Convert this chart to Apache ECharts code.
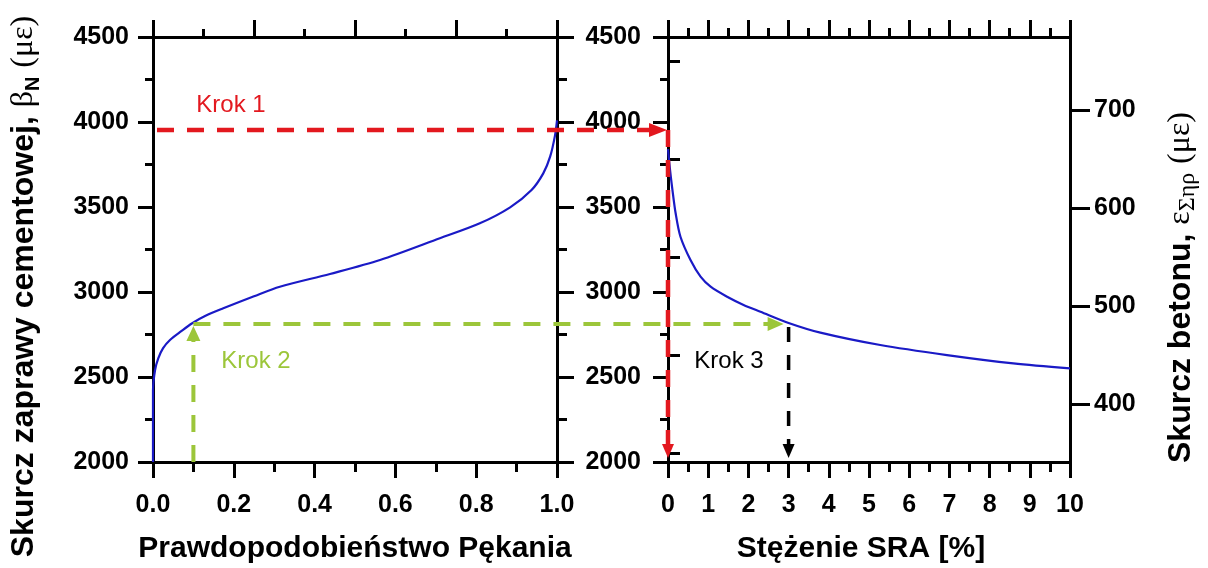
<!DOCTYPE html>
<html><head><meta charset="utf-8">
<script src="https://cdn.jsdelivr.net/npm/echarts@6/dist/echarts.min.js"></script>
<style>html,body{margin:0;padding:0;background:#fff}#c{width:1208px;height:568px}</style>
</head><body><div id="c"></div>
<script>
// ---- data ----
const probability = [0, 0, 0.005, 0.013, 0.025, 0.042, 0.07, 0.096, 0.13, 0.174, 0.25, 0.314, 0.438, 0.562, 0.71, 0.809, 0.884, 0.937, 0.966, 0.983, 0.995, 1.0];
const mortarShrinkageP = [2000, 2420, 2540, 2610, 2670, 2718, 2770, 2815, 2860, 2904, 2975, 3031, 3106, 3188, 3316, 3404, 3498, 3600, 3698, 3796, 3920, 4010];
const sraConcentration = [0, 0.05, 0.1, 0.19, 0.31, 0.56, 0.81, 1.06, 1.47, 1.88, 2.3, 3.0, 3.79, 5.28, 6.94, 8.59, 10];
const mortarShrinkageSRA = [3840, 3720, 3620, 3463, 3325, 3188, 3090, 3031, 2972, 2924, 2884, 2818, 2761, 2688, 2629, 2580, 2551];
const concreteTicksMajor = [400, 500, 600, 700];
const concreteTicksMinor = [350, 450, 550, 650, 750];
const concreteRange = [340.8, 774.5];
const krok1Shrinkage = 3953;
const krok2Probability = 0.1;
const krok2Shrinkage = 2812;
const krok3SRA = 3;
const stepLabels = ['Krok 1', 'Krok 2', 'Krok 3'];

const FONT = '"Liberation Sans", Arial, sans-serif';
const SERIF = '"Liberation Serif", "DejaVu Serif", serif';
const BLACK = '#000';
const RED = '#e3181f';
const GREEN = '#9cc63a';
const BLUE = '#1a1ac6';

const chart = echarts.init(document.getElementById('c'), null, {renderer: 'canvas'});

function line(w) { return {show: true, onZero: false, lineStyle: {color: BLACK, width: w}}; }
function tick(len) { return {show: true, inside: false, length: len, lineStyle: {color: BLACK, width: 3}}; }
function minor(len) { return {show: true, splitNumber: 2, length: len, lineStyle: {color: BLACK, width: 3}}; }
const labelStyle = {fontFamily: FONT, fontWeight: 'bold', fontSize: 25, color: BLACK};
const nameStyleX = {fontFamily: FONT, fontWeight: 'bold', fontSize: 30, color: BLACK};
const plain = v => String(v);

const richY = {
  t: {fontFamily: FONT, fontWeight: 'bold', fontSize: 32, color: BLACK, lineHeight: 38},
  g: {fontFamily: SERIF, fontWeight: 'normal', fontSize: 32, color: BLACK, lineHeight: 38},
  s: {fontFamily: FONT, fontWeight: 'bold', fontSize: 20, color: BLACK, verticalAlign: 'bottom', lineHeight: 38},
  gs: {fontFamily: SERIF, fontWeight: 'normal', fontSize: 24, color: BLACK, verticalAlign: 'bottom', lineHeight: 38}
};

const option = {
  animation: false,
  backgroundColor: '#fff',
  grid: [
    {left: 153, top: 37, width: 404, height: 425, containLabel: false, outerBoundsMode: 'none'},
    {left: 668, top: 37, width: 402, height: 425, containLabel: false, outerBoundsMode: 'none'}
  ],
  xAxis: [
    {gridIndex: 0, type: 'value', position: 'bottom', min: 0, max: 1, interval: 0.2,
     axisLine: line(3), axisTick: tick(16), minorTick: minor(10), splitLine: {show: false}, minorSplitLine: {show: false},
     axisLabel: Object.assign({margin: 31, formatter: v => v.toFixed(1)}, labelStyle),
     name: 'Prawdopodobieństwo Pękania', nameLocation: 'middle', nameGap: 72, nameTextStyle: nameStyleX},
    {gridIndex: 0, type: 'value', position: 'top', min: 0, max: 1, interval: 0.25,
     axisLine: line(3), axisTick: tick(17), minorTick: minor(8), splitLine: {show: false}, axisLabel: {show: false}},
    {gridIndex: 1, type: 'value', position: 'bottom', min: 0, max: 10, interval: 1,
     axisLine: line(3), axisTick: tick(16), minorTick: minor(10), splitLine: {show: false},
     axisLabel: Object.assign({margin: 31, formatter: plain}, labelStyle),
     name: 'Stężenie SRA [%]', nameLocation: 'middle', nameGap: 72,
     nameTextStyle: Object.assign({padding: [0, 16, 0, 0]}, nameStyleX)},
    {gridIndex: 1, type: 'value', position: 'top', min: 0, max: 10, interval: 1,
     axisLine: line(3), axisTick: tick(17), minorTick: minor(9), splitLine: {show: false}, axisLabel: {show: false}}
  ],
  yAxis: [
    {gridIndex: 0, type: 'value', position: 'left', min: 2000, max: 4500, interval: 500,
     axisLine: line(3), axisTick: tick(15), minorTick: minor(8), splitLine: {show: false},
     axisLabel: Object.assign({margin: 24, formatter: plain}, labelStyle),
     name: '{t|Skurcz zaprawy cementowej, }{g|β}{s|N}{t| }{g|(με)}', nameLocation: 'middle', nameRotate: 90, nameGap: 110,
     nameTextStyle: {rich: richY, padding: [0, 74, 0, 0]}},
    {gridIndex: 0, type: 'value', position: 'right', min: 2000, max: 4500, interval: 500,
     axisLine: line(3), axisTick: tick(17), minorTick: minor(10), splitLine: {show: false}, axisLabel: {show: false}},
    {gridIndex: 1, type: 'value', position: 'left', min: 2000, max: 4500, interval: 500,
     axisLine: line(3), axisTick: tick(15), minorTick: minor(8), splitLine: {show: false},
     axisLabel: Object.assign({margin: 27, formatter: plain}, labelStyle)},
    {gridIndex: 1, type: 'value', position: 'right', min: concreteRange[0], max: concreteRange[1],
     axisLine: line(3), axisTick: Object.assign(tick(20), {customValues: concreteTicksMajor}), splitLine: {show: false},
     axisLabel: Object.assign({margin: 24, customValues: concreteTicksMajor, formatter: plain}, labelStyle),
     name: '{t|Skurcz betonu, }{g|ε}{gs|Σηρ}{t| }{g|(με)}', nameLocation: 'middle', nameRotate: 90, nameGap: 92,
     nameTextStyle: {rich: richY, padding: [0, 76, 0, 0]}},
    {gridIndex: 1, type: 'value', position: 'right', min: concreteRange[0], max: concreteRange[1],
     axisLine: {show: false}, axisTick: Object.assign(tick(12), {customValues: concreteTicksMinor}),
     splitLine: {show: false}, axisLabel: {show: false}}
  ],
  series: [
    {type: 'line', xAxisIndex: 0, yAxisIndex: 0, showSymbol: false, smooth: 0.3, z: 5,
     lineStyle: {color: BLUE, width: 2.2}, data: probability.map((p, i) => [p, mortarShrinkageP[i]])},
    {type: 'line', xAxisIndex: 2, yAxisIndex: 2, showSymbol: false, smooth: 0.3, z: 5,
     lineStyle: {color: BLUE, width: 2.2}, data: sraConcentration.map((s, i) => [s, mortarShrinkageSRA[i]])}
  ]
};
chart.setOption(option);

// ---- step arrows, positioned through the axes' scales ----
function px0(v) { return chart.convertToPixel({xAxisIndex: 0, yAxisIndex: 0}, v); }
function px1(v) { return chart.convertToPixel({xAxisIndex: 2, yAxisIndex: 2}, v); }

function dashed(a, b, color, w, dash) {
  return {type: 'line', silent: true, z: 20,
    shape: {x1: a[0], y1: a[1], x2: b[0], y2: b[1]},
    style: {stroke: color, lineWidth: w, lineDash: dash}};
}
function head(tip, dx, dy, len, half, color) {
  const bx = tip[0] - dx * len, by = tip[1] - dy * len;
  const nx = -dy, ny = dx;
  return {type: 'polygon', silent: true, z: 21,
    shape: {points: [tip, [bx + nx * half, by + ny * half], [bx - nx * half, by - ny * half]]},
    style: {fill: color}};
}
function arrow(from, tip, color, w, dash, len, half) {
  const dx = tip[0] - from[0], dy = tip[1] - from[1];
  const L = Math.hypot(dx, dy), ux = dx / L, uy = dy / L;
  const end = [tip[0] - ux * (len - 1), tip[1] - uy * (len - 1)];
  return [dashed(from, end, color, w, dash), head(tip, ux, uy, len, half, color)];
}

const g = [];
// Krok 1
const r0 = px0([0, krok1Shrinkage]);
const rC = px1([0, krok1Shrinkage]);
const rB = px1([0, 2000]);
g.push(...arrow([r0[0] + 4, r0[1]], [rC[0] - 1, rC[1]], RED, 4.5, [17, 13], 18, 7));
g.push(...arrow([rC[0], rC[1]], [rB[0], rB[1] - 4], RED, 4.5, [17, 13], 14, 6));
// Krok 2
const gB = px0([krok2Probability, 2000]);
const gT = px0([krok2Probability, krok2Shrinkage]);
const gR = px1([krok3SRA, krok2Shrinkage]);
g.push(...arrow([gB[0], gB[1]], [gT[0], gT[1] + 2], GREEN, 4, [17, 13], 15, 7));
g.push(...arrow([gT[0], gT[1]], [gR[0] - 5, gR[1]], GREEN, 4, [17, 13], 16, 7));
// Krok 3
const bB = px1([krok3SRA, 2000]);
g.push(...arrow([gR[0], gR[1] + 3], [bB[0], bB[1] - 4], BLACK, 3.5, [15, 13], 14, 6));

// step labels
const lbl = (text, x, y, color) => ({type: 'text', silent: true, z: 22, x: x, y: y,
  style: {text: text, fill: color, fontFamily: FONT, fontSize: 24, fontWeight: 'normal', align: 'center', verticalAlign: 'middle'}});
g.push(lbl(stepLabels[0], 231, 105, RED));
g.push(lbl(stepLabels[1], 256, 361, GREEN));
g.push(lbl(stepLabels[2], 729, 361, BLACK));

chart.setOption({graphic: g});
</script>
</body></html>
